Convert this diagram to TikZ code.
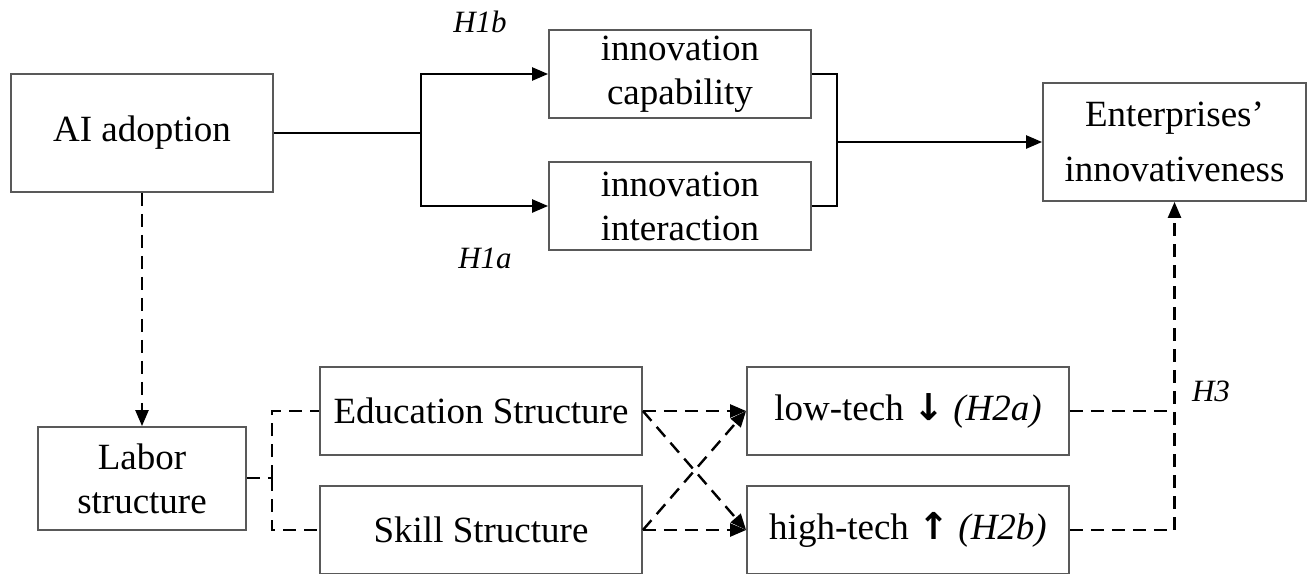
\documentclass[tikz,border=0pt]{standalone}
\usepackage{fontspec}
\setmainfont{Liberation Serif}
\newfontfamily\arrowfont{DejaVu Sans}
\usetikzlibrary{arrows.meta}
\begin{document}
\begin{tikzpicture}[x=1pt,y=-1pt,
  box/.style={draw=black!65, line width=1.8pt, inner sep=0pt, align=center,
    font=\fontsize{37}{44}\selectfont},
  conn/.style={line width=2.4pt, black},
  dconn/.style={conn, dash pattern=on 13pt off 8pt},
  tip/.style={-{Triangle[length=16pt,width=13pt]}},
  hlab/.style={font=\fontsize{31}{36}\selectfont\itshape, inner sep=0pt}]
\useasboundingbox (0,0) rectangle (1313,573);
% boxes
\node[box, minimum width=262pt, minimum height=118pt] (ai) at (142,133) {AI adoption};
\node[box, minimum width=262pt, minimum height=88pt] (cap) at (680,74) {innovation\\capability};
\node[box, minimum width=262pt, minimum height=88pt] (int) at (680,206) {innovation\\interaction};
\node[box, minimum width=263pt, minimum height=118pt, font=\fontsize{37}{55}\selectfont] (ent) at (1174.5,142) {Enterprises’\\innovativeness};
\node[box, minimum width=208pt, minimum height=103pt] (lab) at (142,478.5) {Labor\\structure};
\node[box, minimum width=322pt, minimum height=88pt] (edu) at (481,411) {Education Structure};
\node[box, minimum width=322pt, minimum height=88pt] (ski) at (481,530) {Skill Structure};
\node[box, minimum width=322pt, minimum height=88pt] (low) at (908,411) {low-tech {\arrowfont\bfseries ↓} \textit{(H2a)}};
\node[box, minimum width=322pt, minimum height=88pt] (high) at (908,530) {high-tech {\arrowfont\bfseries ↑} \textit{(H2b)}};
% labels
\node[hlab] (h1b) at (480,22) {H1b};
\node[hlab] (h1a) at (485,258) {H1a};
\node[hlab] (h3) at (1211,391) {H3};
% top connectors
\coordinate (j1) at (421,133);
\draw[conn] (ai.east |- j1) -- (j1);
\draw[conn,tip] (j1) |- (cap.west);
\draw[conn,tip] (j1) |- (int.west);
\coordinate (j2) at (837,142);
\draw[conn] (cap.east) -| (j2);
\draw[conn] (int.east) -| (j2);
\draw[conn,tip] (j2) -- (ent.west);
% AI -> labor
\draw[dconn,tip] (ai.south) -- (lab.north);
% labor bracket
\coordinate (j3) at (272,478);
\draw[dconn] (lab.east |- j3) -- (j3);
\draw[dconn] (j3) |- (edu.west);
\draw[dconn] (j3) |- (ski.west);
% cross
\draw[dconn,tip] (edu.east) -- (low.west);
\draw[dconn,tip] (edu.east) -- (high.west);
\draw[dconn,tip] (ski.east) -- (low.west);
\draw[dconn,tip] (ski.east) -- (high.west);
% to enterprises
\draw[dconn] (low.east) -- (low.east -| ent.south);
\draw[dconn,tip] (high.east) -| (ent.south);
\end{tikzpicture}
\end{document}
